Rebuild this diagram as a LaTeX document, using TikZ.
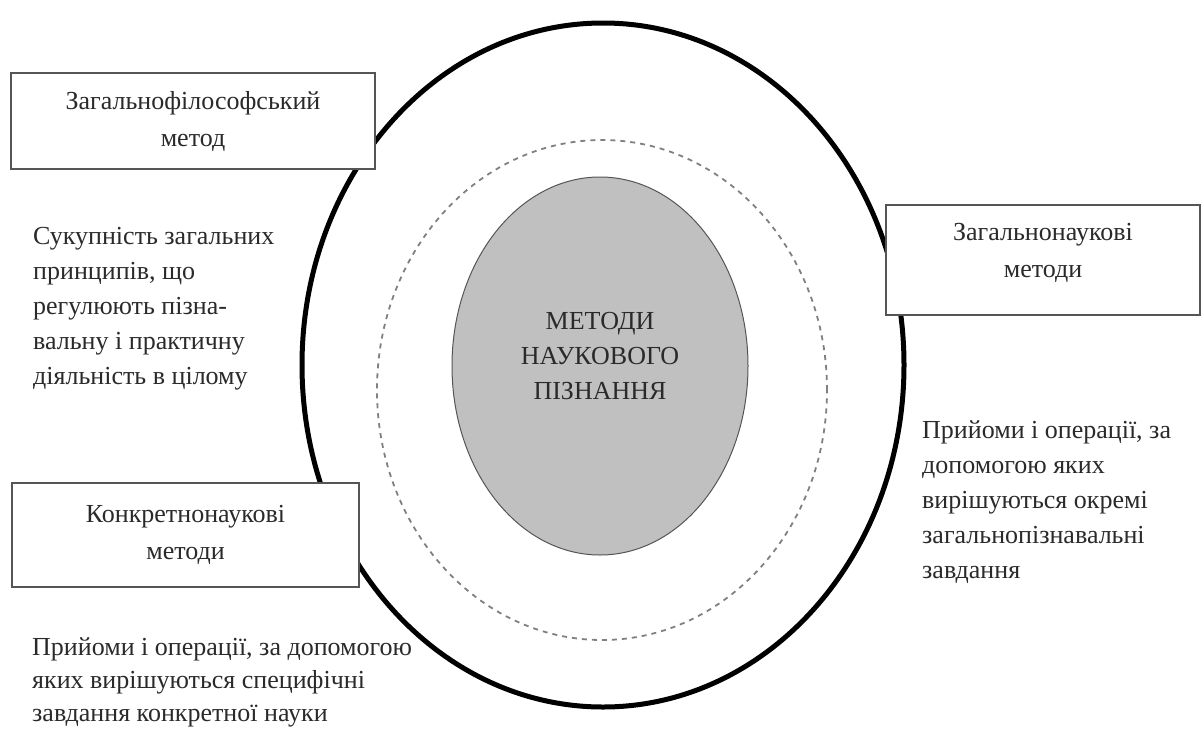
\documentclass[tikz,border=0pt]{standalone}
\usepackage{fontspec}
\setmainfont{Liberation Serif}
\usetikzlibrary{shapes.geometric}
\definecolor{inkgray}{HTML}{2A2A2A}
\definecolor{framegray}{HTML}{555555}
\definecolor{coregray}{HTML}{C0C0C0}
\begin{document}
\begin{tikzpicture}[x=1pt,y=-1pt,
every node/.style={text=inkgray, font=\fontsize{26}{35}\selectfont},
methodbox/.style={rectangle, draw=framegray, line width=2pt, fill=white, align=center, font=\fontsize{26}{37}\selectfont},
note/.style={anchor=north west, inner sep=0pt, align=left}]
\useasboundingbox (0,0) rectangle (1202,737);
\node[ellipse, draw=black, line width=5pt, minimum width=602, minimum height=684] (outer) at (603,365) {};
\node[ellipse, draw=gray, line width=1.8pt, dash pattern=on 5pt off 5pt, minimum width=450, minimum height=500] (middle) at (602,390) {};
\node[ellipse, draw=framegray, line width=1pt, fill=coregray, minimum width=296, minimum height=378] (core) at (600,366) {};
\node[align=center] (coretitle) at ([yshift=10pt]core.center) {МЕТОДИ\\НАУКОВОГО\\ПІЗНАННЯ};
\node[methodbox, minimum width=364, minimum height=96] (phil) at (193,121) {Загальнофілософський\\метод};
\node[methodbox, minimum width=314, minimum height=110] (gen) at (1043,260) {};
\node[align=center, font=\fontsize{26}{37}\selectfont] (gentitle) at ([yshift=7pt]gen.center) {Загальнонаукові\\методи};
\node[methodbox, minimum width=347, minimum height=104] (spec) at (185.5,535) {Конкретнонаукові\\методи};
\node[note] (philnote) at (33,227) {Сукупність загальних\\принципів, що\\регулюють пізна-\\вальну і практичну\\діяльність в цілому};
\node[note] (gennote) at (922,420) {Прийоми і операції, за\\допомогою яких\\вирішуються окремі\\загальнопізнавальні\\завдання};
\node[note, font=\fontsize{26}{33}\selectfont] (specnote) at (32,637) {Прийоми і операції, за допомогою\\яких вирішуються специфічні\\завдання конкретної науки};
\end{tikzpicture}
\end{document}
